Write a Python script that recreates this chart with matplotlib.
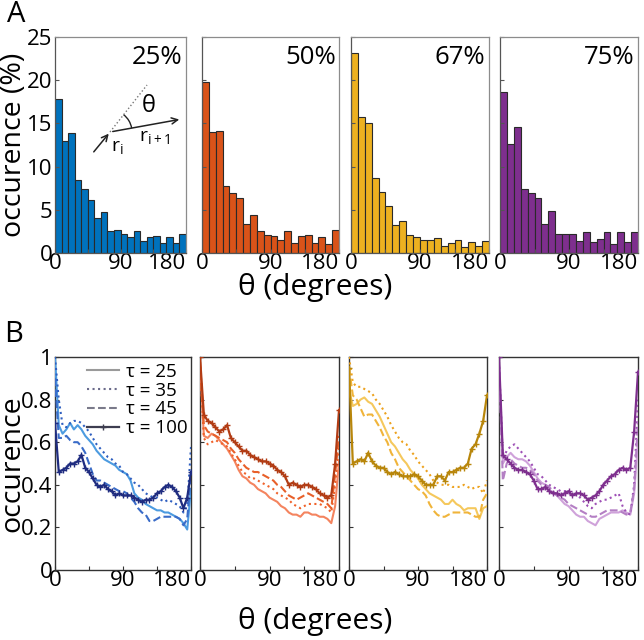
import numpy as np
import matplotlib
matplotlib.use("Agg")
import matplotlib.pyplot as plt
from matplotlib.transforms import Affine2D
from matplotlib.patches import Arc, FancyArrowPatch
from matplotlib.lines import Line2D

plt.rcParams['font.family'] = ['Open Sans', 'DejaVu Sans']

# ---------------- data ----------------
fractions = ["25%", "50%", "67%", "75%"]
bin_left = np.arange(0, 180, 9)  # 20 bins of 9 degrees

hist_25 = [17.8, 13.0, 13.9, 8.5, 7.4, 6.15, 4.0, 4.8, 2.6, 2.7,
           2.15, 1.8, 2.6, 1.4, 1.8, 2.0, 1.15, 1.85, 1.2, 2.15]
hist_50 = [19.75, 14.0, 14.1, 7.7, 7.0, 6.4, 3.3, 4.45, 2.55, 2.1,
           1.95, 1.5, 2.5, 1.15, 1.95, 2.1, 1.15, 1.8, 1.05, 2.65]
hist_67 = [23.2, 15.7, 15.0, 8.7, 7.1, 5.4, 3.2, 3.7, 2.1, 1.8,
           1.5, 1.5, 1.7, 0.8, 1.1, 1.5, 0.7, 1.25, 0.85, 1.35]
hist_75 = [18.6, 12.6, 14.55, 7.4, 7.0, 6.4, 3.35, 4.85, 2.25, 2.25,
           2.25, 1.4, 2.4, 1.3, 1.65, 2.4, 1.05, 2.4, 1.3, 2.4]
hist_colors = ["#0072BD", "#D95319", "#EDB120", "#7E2F8E"]

theta = np.arange(0, 181, 5)
tau_labels = ["\u03c4 = 25", "\u03c4 = 35", "\u03c4 = 45", "\u03c4 = 100"]

# panel 1 (blue)
p1_t25 = [1.00, 0.68, 0.64, 0.66, 0.69, 0.66, 0.68, 0.66, 0.63, 0.61, 0.59, 0.56, 0.54, 0.52, 0.51, 0.50, 0.49, 0.47, 0.46,
          0.45, 0.42, 0.36, 0.34, 0.33, 0.31, 0.30, 0.29, 0.28, 0.28, 0.27, 0.27, 0.26, 0.25, 0.24, 0.22, 0.19, 0.38]
p1_t35 = [1.00, 0.80, 0.68, 0.67, 0.69, 0.70, 0.70, 0.69, 0.67, 0.65, 0.62, 0.59, 0.57, 0.55, 0.53, 0.52, 0.50, 0.49, 0.46,
          0.45, 0.43, 0.41, 0.40, 0.38, 0.36, 0.35, 0.34, 0.34, 0.33, 0.32, 0.33, 0.32, 0.31, 0.30, 0.27, 0.30, 0.58]
p1_t45 = [0.90, 0.62, 0.62, 0.63, 0.61, 0.60, 0.60, 0.58, 0.55, 0.50, 0.45, 0.42, 0.42, 0.41, 0.40, 0.39, 0.38, 0.37, 0.37,
          0.36, 0.34, 0.32, 0.29, 0.27, 0.26, 0.23, 0.23, 0.24, 0.25, 0.25, 0.25, 0.25, 0.25, 0.24, 0.21, 0.24, 0.45]
p1_t100 = [0.69, 0.46, 0.47, 0.48, 0.50, 0.50, 0.51, 0.54, 0.48, 0.46, 0.43, 0.40, 0.39, 0.40, 0.38, 0.37, 0.35, 0.36, 0.35,
           0.35, 0.35, 0.34, 0.33, 0.32, 0.33, 0.33, 0.34, 0.36, 0.37, 0.39, 0.40, 0.39, 0.37, 0.34, 0.29, 0.34, 0.46]
# panel 2 (orange)
p2_t25 = [0.98, 0.63, 0.62, 0.64, 0.63, 0.61, 0.59, 0.57, 0.54, 0.51, 0.47, 0.44, 0.43, 0.41, 0.40, 0.38, 0.37, 0.36, 0.34,
          0.33, 0.32, 0.30, 0.29, 0.27, 0.26, 0.26, 0.25, 0.27, 0.27, 0.26, 0.26, 0.25, 0.25, 0.24, 0.22, 0.30, 0.51]
p2_t35 = [0.98, 0.62, 0.59, 0.60, 0.61, 0.60, 0.59, 0.58, 0.55, 0.52, 0.49, 0.46, 0.45, 0.43, 0.43, 0.42, 0.41, 0.40, 0.39,
          0.38, 0.36, 0.35, 0.34, 0.33, 0.31, 0.30, 0.29, 0.30, 0.31, 0.31, 0.31, 0.31, 0.30, 0.29, 0.27, 0.40, 0.58]
p2_t45 = [0.98, 0.68, 0.65, 0.64, 0.63, 0.62, 0.61, 0.60, 0.57, 0.55, 0.52, 0.50, 0.48, 0.47, 0.46, 0.46, 0.45, 0.44, 0.43,
          0.42, 0.40, 0.39, 0.37, 0.35, 0.34, 0.33, 0.34, 0.35, 0.36, 0.35, 0.34, 0.33, 0.32, 0.31, 0.29, 0.45, 0.63]
p2_t100 = [1.00, 0.73, 0.70, 0.69, 0.67, 0.65, 0.66, 0.68, 0.62, 0.60, 0.58, 0.56, 0.56, 0.54, 0.53, 0.52, 0.51, 0.51, 0.50,
           0.49, 0.47, 0.46, 0.44, 0.40, 0.41, 0.40, 0.39, 0.40, 0.40, 0.39, 0.38, 0.36, 0.35, 0.34, 0.35, 0.50, 0.75]
# panel 3 (yellow)
p3_t25 = [0.85, 0.77, 0.78, 0.80, 0.81, 0.79, 0.78, 0.75, 0.72, 0.68, 0.64, 0.60, 0.58, 0.55, 0.52, 0.50, 0.47, 0.45, 0.43,
          0.40, 0.38, 0.36, 0.35, 0.34, 0.33, 0.31, 0.31, 0.33, 0.31, 0.30, 0.28, 0.29, 0.29, 0.29, 0.24, 0.29, 0.30]
p3_t35 = [1.00, 0.88, 0.86, 0.86, 0.85, 0.84, 0.83, 0.80, 0.78, 0.75, 0.72, 0.68, 0.65, 0.62, 0.60, 0.59, 0.56, 0.54, 0.51,
          0.49, 0.47, 0.45, 0.42, 0.41, 0.40, 0.40, 0.40, 0.39, 0.39, 0.39, 0.40, 0.39, 0.38, 0.39, 0.39, 0.36, 0.42]
p3_t45 = [0.95, 0.82, 0.80, 0.76, 0.72, 0.73, 0.73, 0.70, 0.67, 0.63, 0.60, 0.55, 0.52, 0.48, 0.46, 0.44, 0.42, 0.40, 0.38,
          0.37, 0.35, 0.31, 0.28, 0.26, 0.25, 0.25, 0.26, 0.27, 0.27, 0.27, 0.27, 0.27, 0.26, 0.25, 0.25, 0.33, 0.36]
p3_t100 = [0.95, 0.50, 0.51, 0.52, 0.51, 0.55, 0.51, 0.49, 0.48, 0.48, 0.46, 0.45, 0.46, 0.45, 0.44, 0.44, 0.44, 0.45, 0.44,
           0.42, 0.40, 0.40, 0.40, 0.44, 0.44, 0.42, 0.46, 0.46, 0.47, 0.48, 0.48, 0.50, 0.57, 0.59, 0.64, 0.70, 0.82]
# panel 4 (purple)
p4_t25 = [0.98, 0.50, 0.53, 0.55, 0.53, 0.52, 0.52, 0.51, 0.49, 0.46, 0.43, 0.41, 0.40, 0.38, 0.36, 0.35, 0.33, 0.31, 0.30,
          0.28, 0.26, 0.25, 0.25, 0.23, 0.22, 0.21, 0.24, 0.25, 0.26, 0.27, 0.27, 0.27, 0.28, 0.27, 0.26, 0.36, 0.60]
p4_t35 = [0.98, 0.52, 0.56, 0.58, 0.59, 0.57, 0.55, 0.53, 0.51, 0.48, 0.45, 0.44, 0.42, 0.40, 0.39, 0.38, 0.37, 0.37, 0.36,
          0.36, 0.35, 0.34, 0.32, 0.30, 0.29, 0.31, 0.32, 0.33, 0.33, 0.34, 0.35, 0.36, 0.30, 0.27, 0.26, 0.40, 0.80]
p4_t45 = [0.98, 0.42, 0.50, 0.52, 0.50, 0.49, 0.48, 0.48, 0.47, 0.45, 0.42, 0.40, 0.40, 0.39, 0.37, 0.35, 0.34, 0.33, 0.31,
          0.30, 0.29, 0.28, 0.27, 0.26, 0.25, 0.25, 0.26, 0.27, 0.28, 0.28, 0.28, 0.28, 0.27, 0.26, 0.27, 0.38, 0.70]
p4_t100 = [1.00, 0.54, 0.52, 0.50, 0.48, 0.47, 0.47, 0.46, 0.45, 0.42, 0.38, 0.38, 0.39, 0.37, 0.36, 0.36, 0.35, 0.36, 0.37,
           0.35, 0.36, 0.36, 0.35, 0.33, 0.34, 0.35, 0.37, 0.40, 0.42, 0.44, 0.45, 0.47, 0.48, 0.47, 0.48, 0.65, 0.93]

line_colors = [
    ["#4C9BE0", "#2F5FC0", "#3A6CC8", "#1F2C80"],
    ["#F4845F", "#F0622A", "#E8602A", "#B23C14"],
    ["#F5C85C", "#EDA21E", "#F0B43A", "#B8860B"],
    ["#CFA2DA", "#9E50B6", "#B47FC4", "#7E2F8E"],
]

# ---------------- figure ----------------
W, H = 644, 640
fig = plt.figure(figsize=(W / 100, H / 100), dpi=100)


def px_axes(x0, x1, y0, y1):
    return fig.add_axes([x0 / W, 1 - y1 / H, (x1 - x0) / W, (y1 - y0) / H])


top_pos = [(55, 186), (202, 339), (351, 489), (500, 638)]
bot_pos = [(55, 191), (200, 339), (349, 487), (499, 638)]
hists = [hist_25, hist_50, hist_67, hist_75]
lines = [[p1_t25, p1_t35, p1_t45, p1_t100],
         [p2_t25, p2_t35, p2_t45, p2_t100],
         [p3_t25, p3_t35, p3_t45, p3_t100],
         [p4_t25, p4_t35, p4_t45, p4_t100]]

tick_fs = 16
label_fs = 21.5
ylabel_fs = 20.5


def style_xticks(ax):
    ax.set_xticks([0, 45, 90, 135, 180])
    ax.set_xticklabels(['0', '', '90', '', '180'])
    labs = ax.get_xticklabels()
    labs[-1].set_horizontalalignment('right')


for i in range(4):
    ax = px_axes(top_pos[i][0], top_pos[i][1], 37, 253)
    ax.bar(bin_left, hists[i], width=9, align='edge', color=hist_colors[i],
           edgecolor='#2a2a2a', linewidth=0.8)
    ax.set_xlim(0, 180)
    ax.set_ylim(0, 25)
    style_xticks(ax)
    ax.set_yticks([0, 5, 10, 15, 20, 25])
    if i > 0:
        ax.set_yticklabels([])
    ax.tick_params(direction='in', length=3, width=0.8, labelsize=tick_fs, pad=0,
                   colors='#555555', labelcolor='black')
    ax.tick_params(axis='y', pad=2)
    for s in ['top', 'right']:
        ax.spines[s].set_color('#8c8c8c')
    for s in ['left', 'bottom']:
        ax.spines[s].set_color('#555555')
    for s in ax.spines.values():
        s.set_linewidth(0.9)
    ax.text(0.975, 0.905, fractions[i], transform=ax.transAxes, ha='right',
            va='center', fontsize=18.5)
    if i == 0:
        ax.set_ylabel('occurence (%)', fontsize=ylabel_fs)
        ax.yaxis.set_label_coords((28 - 55) / 131, 0.5)

styles = ['-', ':', '--', '-']
for i in range(4):
    ax = px_axes(bot_pos[i][0], bot_pos[i][1], 357, 570)
    for k in range(4):
        if k == 3:
            ax.plot(theta, lines[i][k], linestyle='-', color=line_colors[i][k], lw=1.6,
                    marker='+', markersize=4, markeredgewidth=1.0, zorder=5)
        else:
            ax.plot(theta, lines[i][k], linestyle=styles[k], color=line_colors[i][k],
                    lw=1.5, zorder=3)
    ax.set_xlim(0, 180)
    ax.set_ylim(0, 1)
    style_xticks(ax)
    ax.set_yticks([0, 0.2, 0.4, 0.6, 0.8, 1.0])
    if i == 0:
        ax.set_yticklabels(['0', '0.2', '0.4', '0.6', '0.8', '1'])
        ax.set_ylabel('occurence', fontsize=ylabel_fs)
        ax.yaxis.set_label_coords((26 - 55) / 136, 0.5)
        handles = [Line2D([], [], color='#9a9a9a', lw=1.5, ls='-'),
                   Line2D([], [], color='#6a6a8a', lw=1.5, ls=':'),
                   Line2D([], [], color='#7a7a8a', lw=1.5, ls='--'),
                   Line2D([], [], color='#3d3d50', lw=1.6, ls='-', marker='+',
                          markersize=4)]
        ax.legend(handles, tau_labels, loc='upper right', bbox_to_anchor=(1.02, 1.0),
                  frameon=False, fontsize=13.5, handlelength=1.7, handletextpad=0.4,
                  labelspacing=0.05, borderpad=0.2, borderaxespad=0.1)
    else:
        ax.set_yticklabels([])
    ax.tick_params(direction='in', length=3, width=0.8, labelsize=tick_fs, pad=0,
                   colors='#333333', labelcolor='black')
    ax.tick_params(axis='y', pad=2)
    for s in ax.spines.values():
        s.set_color('#333333')
        s.set_linewidth(1.0)

# shared x labels and panel letters
fig.text(315 / W, 1 - 287 / H, '\u03b8 (degrees)', ha='center', va='center', fontsize=label_fs)
fig.text(315 / W, 1 - 621 / H, '\u03b8 (degrees)', ha='center', va='center', fontsize=label_fs)
fig.text(16 / W, 1 - 15 / H, 'A', ha='center', va='center', fontsize=21)
fig.text(14 / W, 1 - 334 / H, 'B', ha='center', va='center', fontsize=21)

# inset schematic (pixel coordinates)
trans = Affine2D().scale(1 / W, 1 / H) + fig.transFigure


def P(x, y):
    return (x, H - y)


fig.add_artist(Line2D([P(110, 132)[0], P(147, 85)[0]], [P(110, 132)[1], P(147, 85)[1]],
                      transform=trans, color='#777777', lw=1.0, ls=':'))
fig.add_artist(FancyArrowPatch(P(92, 154), P(110.5, 131.5), transform=trans,
                               arrowstyle='->', mutation_scale=11, color='#222222', lw=1.1))
fig.add_artist(FancyArrowPatch(P(110, 132), P(182, 119), transform=trans,
                               arrowstyle='->', mutation_scale=11, color='#222222', lw=1.1))
fig.add_artist(Arc(P(110, 132), 44, 44, angle=0, theta1=10, theta2=52, transform=trans,
                   color='#222222', lw=1.0))
fig.text(149 / W, 1 - 106 / H, '\u03b8', ha='center', va='center', fontsize=17)
fig.text(117 / W, 1 - 148 / H, 'r$_\\mathregular{i}$', ha='center', va='center', fontsize=14)
fig.text(155 / W, 1 - 138 / H, 'r$_\\mathregular{i+1}$', ha='center', va='center', fontsize=14)

fig.savefig('out.png', dpi=100)
